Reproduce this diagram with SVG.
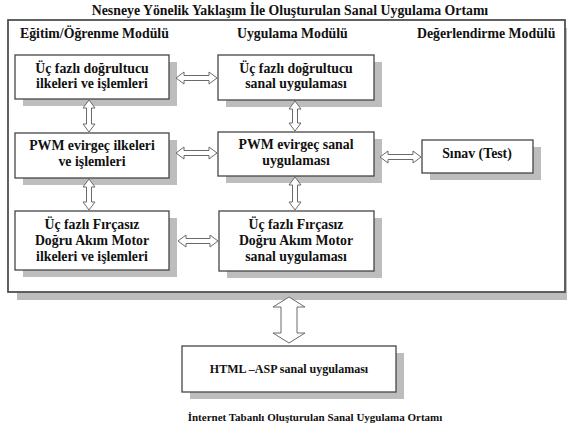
<svg xmlns="http://www.w3.org/2000/svg" width="567" height="432" viewBox="0 0 567 432">
<style>
.bg{fill:#ffffff}
.sh{fill:#bdbdbd}
.box{fill:#ffffff;stroke:#454545;stroke-width:1.3}
.frame{fill:#ffffff;stroke:#505050;stroke-width:1.8}
.t{font-family:"Liberation Serif","Times New Roman",serif;font-weight:bold;font-size:13.8px;fill:#111111}
.c{text-anchor:middle}
.arr{fill:#ffffff;stroke:#6a6a6a;stroke-width:1}
</style>
<rect class="bg" x="0" y="0" width="567" height="432"/>
<text class="t c" x="290" y="15">Nesneye Yönelik Yaklaşım İle Oluşturulan Sanal Uygulama Ortamı</text>
<g id="frame">
<rect class="sh" x="17" y="28" width="557" height="272"/>
<rect class="frame" x="8" y="20" width="557" height="272"/>
<text class="t" x="20" y="38">Eğitim/Öğrenme Modülü</text>
<text class="t" x="237" y="38">Uygulama Modülü</text>
<text class="t" x="417" y="38">Değerlendirme Modülü</text>
</g>
<g id="L1">
<rect class="sh" x="23" y="62" width="154" height="44"/>
<rect class="box" x="15" y="55" width="154" height="44"/>
<text class="t c" x="92" y="73">Üç fazlı doğrultucu</text>
<text class="t c" x="92" y="88">ilkeleri ve işlemleri</text>
</g>
<g id="M1">
<rect class="sh" x="226" y="62" width="156" height="45"/>
<rect class="box" x="218" y="55" width="156" height="45"/>
<text class="t c" x="296" y="73">Üç fazlı doğrultucu</text>
<text class="t c" x="296" y="88">sanal uygulaması</text>
</g>
<g id="L2">
<rect class="sh" x="23" y="140" width="154" height="45"/>
<rect class="box" x="15" y="133" width="154" height="45"/>
<text class="t c" x="92" y="150">PWM evirgeç ilkeleri</text>
<text class="t c" x="92" y="166">ve işlemleri</text>
</g>
<g id="M2">
<rect class="sh" x="226" y="139" width="156" height="44"/>
<rect class="box" x="218" y="132" width="156" height="44"/>
<text class="t c" x="296" y="149">PWM evirgeç sanal</text>
<text class="t c" x="296" y="165">uygulaması</text>
</g>
<g id="S">
<rect class="sh" x="430" y="147" width="111" height="33"/>
<rect class="box" x="422" y="140" width="111" height="33"/>
<text class="t c" x="477" y="158">Sınav (Test)</text>
</g>
<g id="L3">
<rect class="sh" x="23" y="218" width="154" height="59"/>
<rect class="box" x="15" y="211" width="154" height="59"/>
<text class="t c" x="92" y="229">Üç fazlı Fırçasız</text>
<text class="t c" x="92" y="245">Doğru Akım Motor</text>
<text class="t c" x="92" y="261">ilkeleri ve işlemleri</text>
</g>
<g id="M3">
<rect class="sh" x="227" y="218" width="155" height="60"/>
<rect class="box" x="219" y="211" width="155" height="60"/>
<text class="t c" x="296" y="229">Üç fazlı Fırçasız</text>
<text class="t c" x="296" y="245">Doğru Akım Motor</text>
<text class="t c" x="296" y="261">sanal uygulaması</text>
</g>
<g id="HTML">
<rect class="sh" x="190" y="353" width="214" height="46"/>
<rect class="box" x="182" y="346" width="214" height="46"/>
<text class="t c" x="289" y="373" style="font-size:12px">HTML –ASP sanal uygulaması</text>
</g>
<text class="t c" x="315" y="421" style="font-size:11px">İnternet Tabanlı Oluşturulan Sanal Uygulama Ortamı</text>
<g id="connectors">
<path class="arr" d="M176,78 L184,72 L184,75.5 L209,75.5 L209,72 L217,78 L209,84 L209,80.5 L184,80.5 L184,84 Z"/>
<path class="arr" d="M176,153 L184,147 L184,150.5 L209,150.5 L209,147 L217,153 L209,159 L209,155.5 L184,155.5 L184,159 Z"/>
<path class="arr" d="M380,157 L388,151 L388,154.5 L413,154.5 L413,151 L421,157 L413,163 L413,159.5 L388,159.5 L388,163 Z"/>
<path class="arr" d="M178,241 L186,235 L186,238.5 L210,238.5 L210,235 L218,241 L210,247 L210,243.5 L186,243.5 L186,247 Z"/>
<path class="arr" d="M89,100 L95,108 L91.5,108 L91.5,124 L95,124 L89,132 L83,124 L86.5,124 L86.5,108 L83,108 Z"/>
<path class="arr" d="M89,179 L95,187 L91.5,187 L91.5,202 L95,202 L89,210 L83,202 L86.5,202 L86.5,187 L83,187 Z"/>
<path class="arr" d="M295,101 L301,109 L297.5,109 L297.5,123 L301,123 L295,131 L289,123 L292.5,123 L292.5,109 L289,109 Z"/>
<path class="arr" d="M295,177 L301,185 L297.5,185 L297.5,202 L301,202 L295,210 L289,202 L292.5,202 L292.5,185 L289,185 Z"/>
<path class="arr" d="M289,297 L305,307 L297,307 L297,333 L305,333 L289,343 L273,333 L281,333 L281,307 L273,307 Z"/>
</g>
</svg>
